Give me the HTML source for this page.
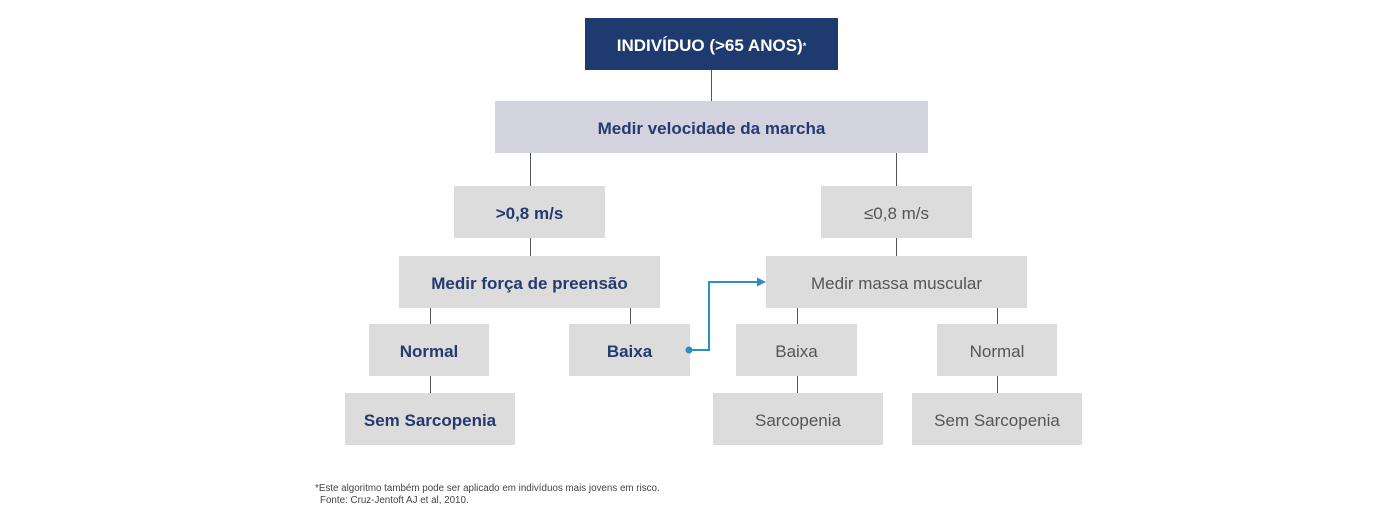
<!DOCTYPE html>
<html><head><style>
body{margin:0;width:1381px;height:521px;background:#fff;position:relative;font-family:"Liberation Sans",sans-serif;overflow:hidden}
.b{position:absolute;display:flex;align-items:center;justify-content:center;font-size:17px;background:#dcdcdc;color:#253a6e;font-weight:bold;height:52px;box-sizing:border-box;padding-top:4px}
.g{color:#555;font-weight:normal}
.l{position:absolute;width:1px;background:#555}
.f{position:absolute;left:315px;font-size:9.8px;color:#444}
</style></head><body>
<div class="b" style="left:585px;top:18px;width:253px;background:#1f3a6e;color:#fff;">INDIVÍDUO (&gt;65 ANOS)<sup style="font-size:9px">*</sup></div>
<div class="l" style="left:711px;top:70px;height:31px"></div>
<div class="b" style="left:495px;top:101px;width:433px;background:#d3d3e0">Medir velocidade da marcha</div>
<div class="l" style="left:530px;top:153px;height:33px"></div>
<div class="l" style="left:896px;top:153px;height:33px"></div>
<div class="b" style="left:454px;top:186px;width:151px">&gt;0,8 m/s</div>
<div class="b g" style="left:821px;top:186px;width:151px">≤0,8 m/s</div>
<div class="l" style="left:530px;top:238px;height:18px"></div>
<div class="l" style="left:896px;top:238px;height:18px"></div>
<div class="b" style="left:399px;top:256px;width:261px">Medir força de preensão</div>
<div class="b g" style="left:766px;top:256px;width:261px">Medir massa muscular</div>
<div class="l" style="left:430px;top:308px;height:16px"></div>
<div class="l" style="left:630px;top:308px;height:16px"></div>
<div class="l" style="left:797px;top:308px;height:16px"></div>
<div class="l" style="left:997px;top:308px;height:16px"></div>
<div class="b" style="left:369px;top:324px;width:120px">Normal</div>
<div class="b" style="left:569px;top:324px;width:121px">Baixa</div>
<div class="b g" style="left:736px;top:324px;width:121px">Baixa</div>
<div class="b g" style="left:937px;top:324px;width:120px">Normal</div>
<div class="l" style="left:430px;top:376px;height:17px"></div>
<div class="l" style="left:797px;top:376px;height:17px"></div>
<div class="l" style="left:997px;top:376px;height:17px"></div>
<div class="b" style="left:345px;top:393px;width:170px">Sem Sarcopenia</div>
<div class="b g" style="left:713px;top:393px;width:170px">Sarcopenia</div>
<div class="b g" style="left:912px;top:393px;width:170px">Sem Sarcopenia</div>
<svg style="position:absolute;left:0;top:0" width="1381" height="521">
<circle cx="689" cy="350" r="3.5" fill="#2a8fc4"/>
<polyline points="689,350 709,350 709,282 758,282" fill="none" stroke="#2a8fc4" stroke-width="2"/>
<polygon points="766,282 757,277.5 757,286.5" fill="#2a8fc4"/>
</svg>
<div class="f" style="top:483px">*Este algoritmo também pode ser aplicado em indivíduos mais jovens em risco.</div>
<div class="f" style="top:495px;left:320px">Fonte: Cruz-Jentoft AJ et al, 2010.</div>
</body></html>
